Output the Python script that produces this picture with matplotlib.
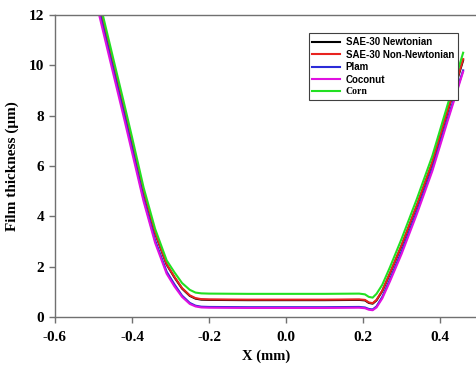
import matplotlib
matplotlib.use("Agg")
import matplotlib.pyplot as plt

# film thickness profiles
x_mm = [-0.49, -0.45, -0.42, -0.40, -0.37, -0.34, -0.31, -0.29, -0.27, -0.25,
        -0.235, -0.22, -0.20, -0.10, 0.0, 0.10, 0.19, 0.205, 0.215, 0.225,
        0.235, 0.25, 0.27, 0.30, 0.34, 0.38, 0.42, 0.46]

sae_newtonian = [12.73, 10.18, 8.28, 6.98, 4.98, 3.33, 2.08, 1.58, 1.13, 0.84,
                 0.73, 0.69, 0.68, 0.67, 0.67, 0.67, 0.68, 0.66, 0.56, 0.53,
                 0.66, 1.03, 1.73, 2.83, 4.43, 6.13, 8.18, 10.2]
sae_non_newtonian = [12.75, 10.2, 8.3, 7.0, 5.0, 3.35, 2.1, 1.6, 1.15, 0.86,
                     0.75, 0.71, 0.70, 0.69, 0.69, 0.69, 0.70, 0.68, 0.58, 0.55,
                     0.68, 1.05, 1.75, 2.85, 4.45, 6.15, 8.2, 10.25]
plam = [12.45, 9.9, 8.0, 6.7, 4.7, 3.05, 1.8, 1.3, 0.85, 0.56,
        0.45, 0.41, 0.40, 0.39, 0.39, 0.39, 0.40, 0.38, 0.32, 0.30,
        0.42, 0.8, 1.5, 2.6, 4.2, 5.9, 7.9, 9.8]
coconut = [12.3, 9.75, 7.85, 6.55, 4.6, 2.95, 1.72, 1.22, 0.8, 0.52,
           0.42, 0.38, 0.37, 0.36, 0.36, 0.36, 0.37, 0.35, 0.29, 0.27,
           0.38, 0.74, 1.42, 2.5, 4.1, 5.8, 7.8, 9.75]
corn = [12.9, 10.35, 8.45, 7.15, 5.15, 3.5, 2.25, 1.78, 1.35, 1.08,
        0.97, 0.94, 0.93, 0.92, 0.92, 0.92, 0.93, 0.90, 0.80, 0.77,
        0.92, 1.28, 1.98, 3.1, 4.7, 6.4, 8.45, 10.5]

labels = ["SAE-30 Newtonian", "SAE-30 Non-Newtonian", "Plam", "Coconut", "Corn"]
colors = ["black", "#e8231f", "#2b2bd8", "#e010e0", "#22e022"]

x_ticks = [-0.6, -0.4, -0.2, 0.0, 0.2, 0.4]
y_ticks = [0, 2, 4, 6, 8, 10, 12]

serif = ["Liberation Serif", "DejaVu Serif"]
sans = ["Liberation Sans", "DejaVu Sans"]

fig = plt.figure(figsize=(4.77, 3.67), dpi=100)
ax = fig.add_axes([0.1153, 0.1362, 0.8847, 0.823])

series = [sae_newtonian, sae_non_newtonian, plam, coconut, corn]
for ys, lab, col in zip(series, labels, colors):
    ax.plot(x_mm, ys, color=col, lw=1.5, label=lab, solid_joinstyle="round")

ax.set_xlim(-0.6, 0.496)
ax.set_ylim(0, 12)
ax.set_xticks(x_ticks)
ax.set_xticklabels([f"{v:.1f}" for v in x_ticks])
ax.set_yticks(y_ticks)

for s in ["left", "bottom", "top"]:
    ax.spines[s].set_color("#707070")
    ax.spines[s].set_linewidth(1.0)
ax.spines["right"].set_visible(False)
ax.tick_params(direction="out", length=4, color="#707070", width=1.0, pad=6)
ax.tick_params(axis="y", pad=4)
for t in ax.get_xticklabels() + ax.get_yticklabels():
    t.set_family(serif)
    t.set_fontweight("bold")
    t.set_fontsize(11)

ax.set_xlabel("X (mm)", family=serif, fontweight="bold", fontsize=10.5, labelpad=4)
ax.set_ylabel("Film thickness (\u03bcm)", family=serif, fontweight="bold", fontsize=11, labelpad=7)

leg = ax.legend(loc="upper right", bbox_to_anchor=(0.966, 0.955), fancybox=False,
                framealpha=1, edgecolor="#404040", handlelength=2.8, borderpad=0.4,
                labelspacing=0.25, handletextpad=0.6,
                prop={"family": sans, "weight": "bold", "size": 7})
leg.get_frame().set_linewidth(0.8)
leg.get_texts()[-1].set_family(serif)

fig.savefig("out.png", dpi=100)
